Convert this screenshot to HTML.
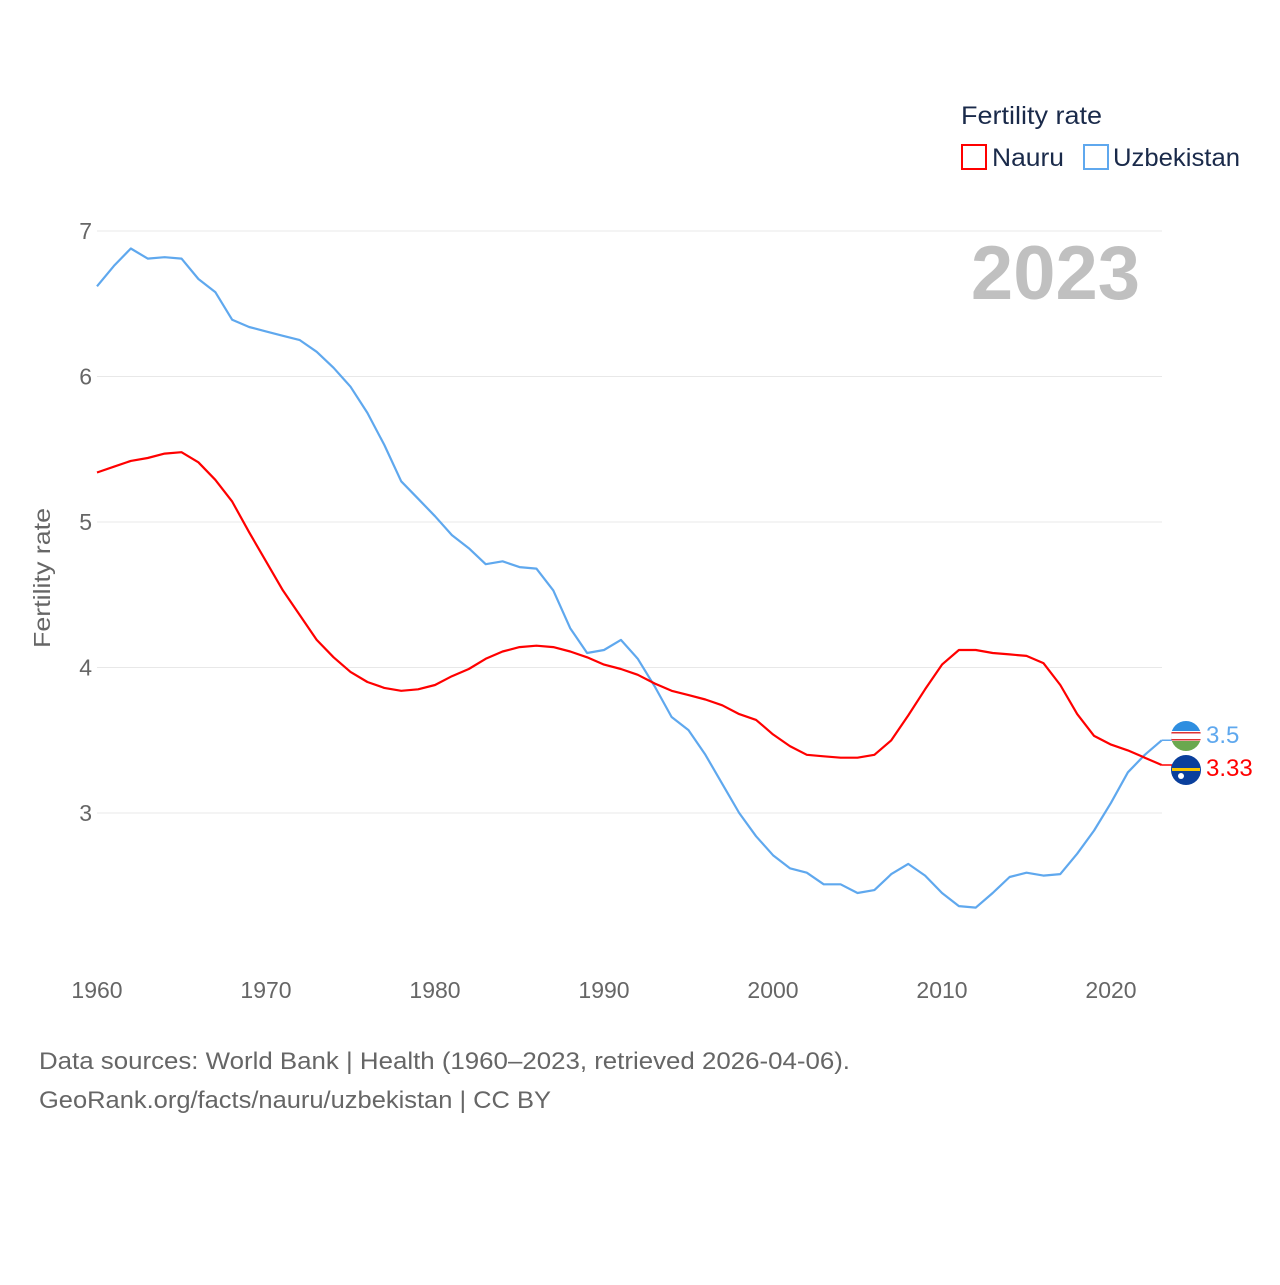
<!DOCTYPE html>
<html><head><meta charset="utf-8"><style>
body{margin:0;background:#fff;font-family:"Liberation Sans",sans-serif}
</style></head><body>
<svg id="chart" width="1280" height="1280" xmlns="http://www.w3.org/2000/svg" style="font-family:'Liberation Sans',sans-serif">
<g id="grid"></g>
<g id="yticks"></g>
<g id="xticks"></g>
<text transform="translate(50,578) rotate(-90)" text-anchor="middle" font-size="23" fill="#666" textLength="140" lengthAdjust="spacingAndGlyphs">Fertility rate</text>
<text x="1140" y="299" text-anchor="end" font-size="76" font-weight="bold" fill="#c0c0c0">2023</text>
<g>
<text x="961" y="124" font-size="25" fill="#1a2a4a" textLength="141" lengthAdjust="spacingAndGlyphs">Fertility rate</text>
<rect x="962" y="145" width="24" height="24" fill="none" stroke="#f00" stroke-width="2"/>
<text x="992" y="166" font-size="25" fill="#1a2a4a" textLength="72" lengthAdjust="spacingAndGlyphs">Nauru</text>
<rect x="1084" y="145" width="24" height="24" fill="none" stroke="#5fa8ee" stroke-width="2"/>
<text x="1113" y="166" font-size="25" fill="#1a2a4a" textLength="127" lengthAdjust="spacingAndGlyphs">Uzbekistan</text>
</g>
<g id="series"></g>
<text x="39" y="1069" font-size="24" fill="#666" textLength="811" lengthAdjust="spacingAndGlyphs">Data sources: World Bank | Health (1960–2023, retrieved 2026-04-06).</text>
<text x="39" y="1108" font-size="24" fill="#666" textLength="512" lengthAdjust="spacingAndGlyphs">GeoRank.org/facts/nauru/uzbekistan | CC BY</text>
</svg>
<script>
const years=[];for(let y=1960;y<=2023;y++)years.push(y);
const uzbekistan=[6.62,6.76,6.88,6.81,6.82,6.81,6.67,6.58,6.39,6.34,6.31,6.28,6.25,6.17,6.06,5.93,5.75,5.53,5.28,5.16,5.04,4.91,4.82,4.71,4.73,4.69,4.68,4.53,4.27,4.10,4.12,4.19,4.06,3.87,3.66,3.57,3.40,3.20,3.00,2.84,2.71,2.62,2.59,2.51,2.51,2.45,2.47,2.58,2.65,2.57,2.45,2.36,2.35,2.45,2.56,2.59,2.57,2.58,2.72,2.88,3.07,3.28,3.40,3.50];
const nauru=[5.34,5.38,5.42,5.44,5.47,5.48,5.41,5.29,5.14,4.93,4.73,4.53,4.36,4.19,4.07,3.97,3.90,3.86,3.84,3.85,3.88,3.94,3.99,4.06,4.11,4.14,4.15,4.14,4.11,4.07,4.02,3.99,3.95,3.89,3.84,3.81,3.78,3.74,3.68,3.64,3.54,3.46,3.40,3.39,3.38,3.38,3.40,3.50,3.67,3.85,4.02,4.12,4.12,4.10,4.09,4.08,4.03,3.88,3.68,3.53,3.47,3.43,3.38,3.33];
const yTicks=[3,4,5,6,7];
const xTicks=[1960,1970,1980,1990,2000,2010,2020];
const X=v=>97+(v-1960)*(1111-97)/60;
const Y=v=>813-(v-3)*145.5;
const NS="http://www.w3.org/2000/svg";
function mk(tag,attrs,parent,text){const e=document.createElementNS(NS,tag);for(const k in attrs)e.setAttribute(k,attrs[k]);if(text!==undefined)e.textContent=text;parent.appendChild(e);return e;}
const grid=document.getElementById('grid'),yt=document.getElementById('yticks'),xt=document.getElementById('xticks'),ser=document.getElementById('series');
yTicks.forEach(t=>{
 const l=mk('line',{x1:97,x2:1162,y1:Y(t),y2:Y(t),stroke:'#e8e8e8','stroke-width':1},grid);
 
 
 const tx=mk('text',{x:92,y:Y(t)+8,'text-anchor':'end','font-size':23,fill:'#666'},yt,String(t));
 
 
});
xTicks.forEach(t=>{
 const tx=mk('text',{x:X(t),y:998,'text-anchor':'middle','font-size':23,fill:'#666'},xt,String(t));
 
 
});
function line(vals,color,name){
 const d=vals.map((v,i)=>(i?'L':'M')+X(years[i]).toFixed(1)+','+Y(v).toFixed(1)).join('');
 const p=mk('path',{d:d,fill:'none',stroke:color,'stroke-width':2.2,'stroke-linejoin':'round'},ser);
 
 
}
line(uzbekistan,'#5fa8ee','line-uzbekistan');
line(nauru,'#f00','line-nauru');
const lu=uzbekistan[uzbekistan.length-1],ln=nauru[nauru.length-1],xe=X(2023);
const c1=mk('path',{d:`M${xe},${Y(lu)}L1172,${Y(lu)}L1172,734`,fill:'none',stroke:'#5fa8ee','stroke-width':1.5},ser);


const c2=mk('path',{d:`M${xe},${Y(ln)}L1172,${Y(ln)}L1172,770`,fill:'none',stroke:'#f00','stroke-width':1.5},ser);


const fu=mk('g',{},ser);


mk('clipPath',{id:'cu'},fu).appendChild(document.createElementNS(NS,'circle'));
const cc=fu.querySelector('circle');cc.setAttribute('cx',1186);cc.setAttribute('cy',736);cc.setAttribute('r',15);
const gu=mk('g',{'clip-path':'url(#cu)'},fu);
mk('rect',{x:1170,y:720,width:32,height:11,fill:'#2e8ee0'},gu);
mk('rect',{x:1170,y:731,width:32,height:10,fill:'#fff'},gu);
mk('rect',{x:1170,y:732,width:32,height:1.5,fill:'#d33'},gu);
mk('rect',{x:1170,y:739,width:32,height:1.5,fill:'#d33'},gu);
mk('rect',{x:1170,y:741,width:32,height:11,fill:'#6aa84f'},gu);
const fn=mk('g',{},ser);


mk('circle',{cx:1186,cy:770,r:15,fill:'#0a3f9c'},fn);
mk('rect',{x:1172,y:768,width:28,height:3,fill:'#f5c400'},fn);
mk('circle',{cx:1181,cy:776,r:3,fill:'#fff'},fn);
const vu=mk('text',{x:1206,y:743,'font-size':24,fill:'#5fa8ee'},ser,String(lu));


const vn=mk('text',{x:1206,y:776,'font-size':24,fill:'#f00'},ser,String(ln));


</script>
</body></html>
